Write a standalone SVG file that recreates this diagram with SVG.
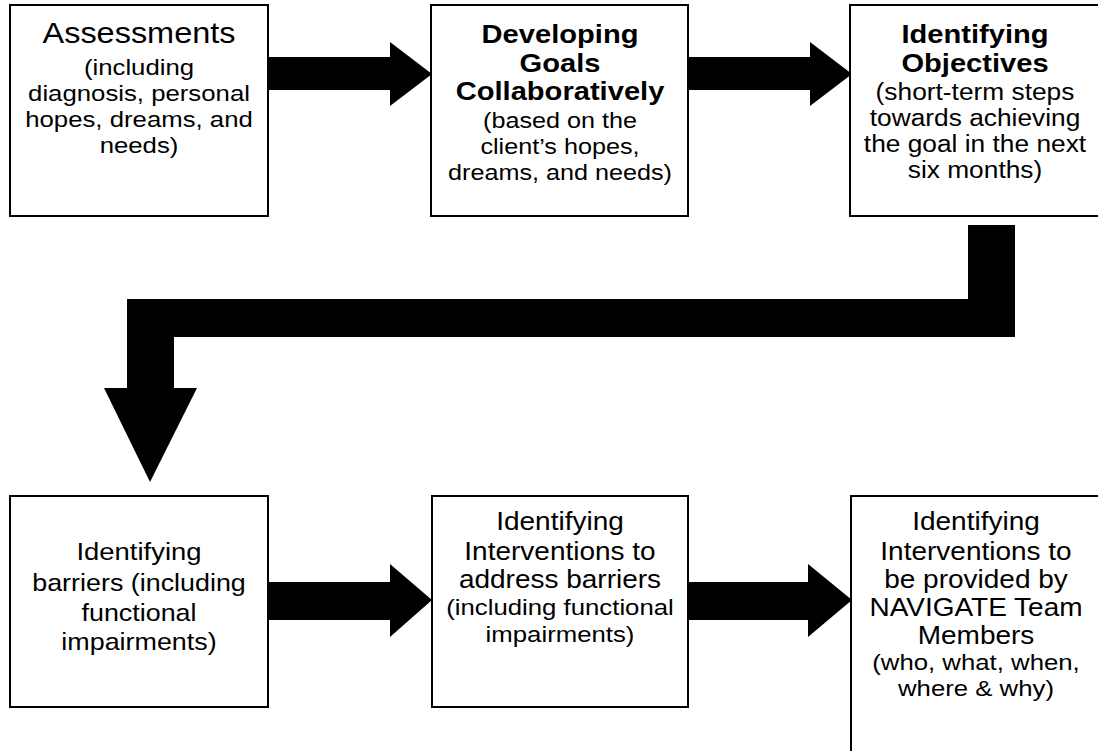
<svg xmlns="http://www.w3.org/2000/svg" width="1098" height="751" viewBox="0 0 1098 751">
<style>
.box{fill:#fff;stroke:#000;stroke-width:2}
text{font-family:"Liberation Sans",Arial,sans-serif;fill:#000;text-anchor:middle}
.b{font-weight:bold}
.arr{fill:#000}
</style>
<rect width="1098" height="751" fill="#fff"/>
<g id="connectors">
<polygon class="arr" points="268,57 390,57 390,42 432,74 390,106 390,90 268,90"/>
<polygon class="arr" points="688,57 810,57 810,42 852,74 810,106 810,90 688,90"/>
<polygon class="arr" points="968,225 1015,225 1015,337 174,337 174,388 197,388 150,482 104,388 127,388 127,299 968,299"/>
<polygon class="arr" points="268,582 390,582 390,564 432,600 390,637 390,620 268,620"/>
<polygon class="arr" points="688,582 808,582 808,564 852,600 808,637 808,620 688,620"/>
</g>
<g id="n1">
<rect class="box" x="10" y="5" width="258" height="211"/>
<g transform="translate(139 0) scale(1.12 1)">
<text x="0" y="43" font-size="29">Assessments</text>
<text x="0" y="75" font-size="23">(including</text>
<text x="0" y="101" font-size="23">diagnosis, personal</text>
<text x="0" y="127" font-size="23">hopes, dreams, and</text>
<text x="0" y="153" font-size="23">needs)</text>
</g>
</g>
<g id="n2">
<rect class="box" x="431" y="5" width="257" height="211"/>
<g transform="translate(560 0) scale(1.12 1)">
<text class="b" x="0" y="43" font-size="26">Developing</text>
<text class="b" x="0" y="72" font-size="26">Goals</text>
<text class="b" x="0" y="100" font-size="26">Collaboratively</text>
<text x="0" y="128" font-size="22.5">(based on the</text>
<text x="0" y="154" font-size="22.5">client’s hopes,</text>
<text x="0" y="180" font-size="22.5">dreams, and needs)</text>
</g>
</g>
<g id="n3">
<rect class="box" x="850" y="5" width="262" height="211"/>
<g transform="translate(975 0) scale(1.12 1)">
<text class="b" x="0" y="43" font-size="26">Identifying</text>
<text class="b" x="0" y="72" font-size="26">Objectives</text>
<text x="0" y="100" font-size="23.5">(short-term steps</text>
<text x="0" y="126" font-size="23.5">towards achieving</text>
<text x="0" y="152" font-size="23.5">the goal in the next</text>
<text x="0" y="178" font-size="23.5">six months)</text>
</g>
</g>
<g id="n4">
<rect class="box" x="10" y="496" width="258" height="211"/>
<g transform="translate(139 0) scale(1.12 1)">
<text x="0" y="560" font-size="24.5">Identifying</text>
<text x="0" y="591" font-size="24">barriers (including</text>
<text x="0" y="621" font-size="24">functional</text>
<text x="0" y="650" font-size="24">impairments)</text>
</g>
</g>
<g id="n5">
<rect class="box" x="432" y="496" width="256" height="211"/>
<g transform="translate(560 0) scale(1.12 1)">
<text x="0" y="530" font-size="25">Identifying</text>
<text x="0" y="560" font-size="25">Interventions to</text>
<text x="0" y="588" font-size="25">address barriers</text>
<text x="0" y="615" font-size="23">(including functional</text>
<text x="0" y="642" font-size="23">impairments)</text>
</g>
</g>
<g id="n6">
<rect class="box" x="851" y="496" width="262" height="280"/>
<g transform="translate(976 0) scale(1.12 1)">
<text x="0" y="530" font-size="25">Identifying</text>
<text x="0" y="560" font-size="25">Interventions to</text>
<text x="0" y="588" font-size="25">be provided by</text>
<text x="0" y="616" font-size="25">NAVIGATE Team</text>
<text x="0" y="644" font-size="25">Members</text>
<text x="0" y="670" font-size="23">(who, what, when,</text>
<text x="0" y="696" font-size="23">where &amp; why)</text>
</g>
</g>
</svg>
